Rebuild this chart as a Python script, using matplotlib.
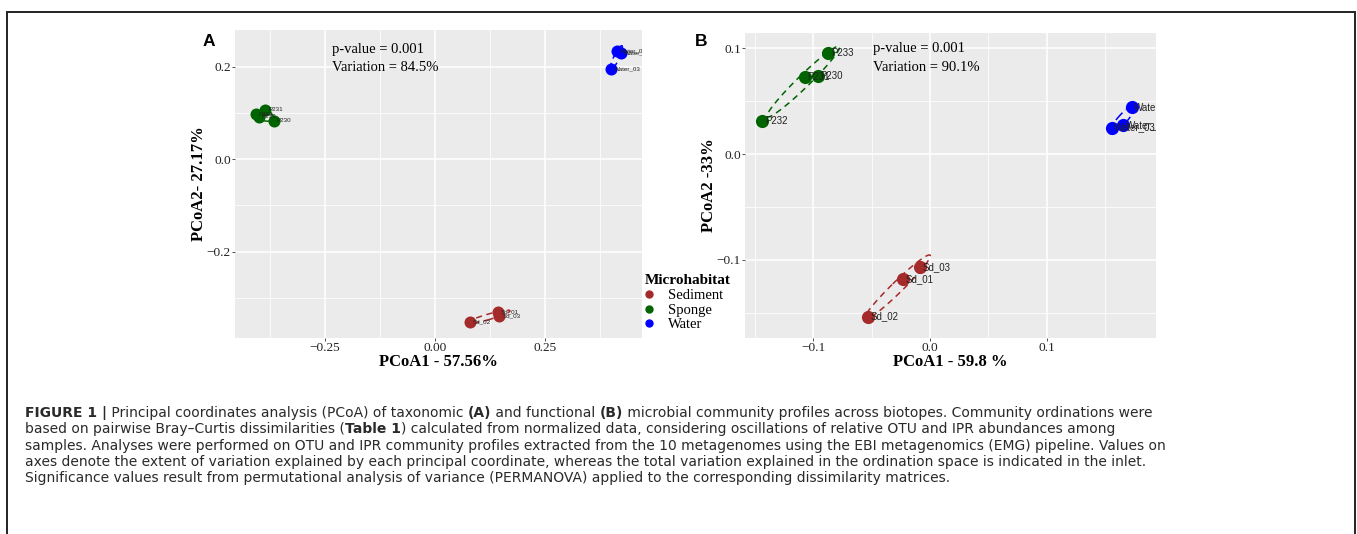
import numpy as np
import matplotlib
matplotlib.use('Agg')
import matplotlib.pyplot as plt
from matplotlib.lines import Line2D
from matplotlib.patches import Rectangle
from matplotlib.transforms import IdentityTransform

# groups and colours
groups = ['Sediment', 'Sponge', 'Water']
colors = ['#A52A2A', '#006400', '#0000FF']

sed_names = ['Sd_01', 'Sd_02', 'Sd_03']
spo_names = ['P230', 'P231', 'P232', 'P233']
wat_names = ['Water_01', 'Water_02', 'Water_03']

# panel A - taxonomic profiles (OTU)
a_sed_x = [0.1425, 0.078, 0.146]
a_sed_y = [-0.331, -0.353, -0.339]
a_spo_x = [-0.366, -0.386, -0.4075, -0.4015]
a_spo_y = [0.083, 0.107, 0.097, 0.091]
a_wat_x = [0.413, 0.422, 0.400]
a_wat_y = [0.233, 0.229, 0.195]

# panel B - functional profiles (IPR)
b_sed_x = [-0.023, -0.053, -0.0086]
b_sed_y = [-0.118, -0.1535, -0.1065]
b_spo_x = [-0.096, -0.1074, -0.1437, -0.0871]
b_spo_y = [0.074, 0.0734, 0.0315, 0.0955]
b_wat_x = [0.1654, 0.1728, 0.1557]
b_wat_y = [0.0274, 0.0447, 0.0252]

caption = [
    [('FIGURE 1 |', True), (' Principal coordinates analysis (PCoA) of taxonomic ', False), ('(A)', True),
     (' and functional ', False), ('(B)', True),
     (' microbial community profiles across biotopes. Community ordinations were', False)],
    [('based on pairwise Bray\u2013Curtis dissimilarities (', False), ('Table 1', True),
     (') calculated from normalized data, considering oscillations of relative OTU and IPR abundances among', False)],
    [('samples. Analyses were performed on OTU and IPR community profiles extracted from the 10 metagenomes using the EBI metagenomics (EMG) pipeline. Values on', False)],
    [('axes denote the extent of variation explained by each principal coordinate, whereas the total variation explained in the ordination space is indicated in the inlet.', False)],
    [('Significance values result from permutational analysis of variance (PERMANOVA) applied to the corresponding dissimilarity matrices.', False)],
]

SERIF = 'Liberation Serif'
SANS = 'Liberation Sans'
W, H = 1357, 534


def ellipse(xs, ys, scale=1.25):
    pts = np.column_stack([xs, ys])
    c = pts.mean(axis=0)
    vals, vecs = np.linalg.eigh(np.cov(pts.T))
    sd = np.sqrt(np.maximum(vals, 0))
    # keep very flat groups from collapsing into a single line
    sd[0] = max(sd[0], 0.12 * sd[1])
    t = np.linspace(0, 2 * np.pi, 120)
    circ = np.vstack([np.cos(t), np.sin(t)])
    e = vecs @ (sd[:, None] * circ) * scale
    return c[0] + e[0], c[1] + e[1]


def panel(ax, data, xlim, ylim, xmaj, xmin, ymaj, ymin, xlab, ylab, lab_size, ms):
    ax.set_facecolor('#EBEBEB')
    ax.set_xlim(xlim)
    ax.set_ylim(ylim)
    ax.set_xticks(xmaj)
    ax.set_xticks(xmin, minor=True)
    ax.set_yticks(ymaj)
    ax.set_yticks(ymin, minor=True)
    ax.grid(which='major', color='white', lw=1.1)
    ax.grid(which='minor', color='white', lw=0.55)
    ax.set_axisbelow(True)
    for s in ax.spines.values():
        s.set_visible(False)
    ax.tick_params(which='minor', length=0)
    ax.tick_params(which='major', length=2.5, width=0.6, color='#333333',
                   labelsize=9.6, labelcolor='#222222', pad=0.5)
    for lab in ax.get_xticklabels() + ax.get_yticklabels():
        lab.set_family(SERIF)
    for (xs, ys, names), col in zip(data, colors):
        ex, ey = ellipse(xs, ys)
        ax.plot(ex, ey, color=col, lw=1.1, ls=(0, (4, 3)), zorder=2)
        ax.scatter(xs, ys, s=ms, color=col, zorder=3, linewidths=0)
        for x, y, n in zip(xs, ys, names):
            ax.annotate(n, (x, y), xytext=(2, 0), textcoords='offset points',
                        fontsize=lab_size, family=SANS, va='center', ha='left',
                        color='#222222', zorder=4, annotation_clip=True, clip_on=True)
    ax.set_xlabel(xlab, family=SERIF, fontweight='bold', fontsize=12, labelpad=0)
    ax.set_ylabel(ylab, family=SERIF, fontweight='bold', fontsize=12, labelpad=0)


fig = plt.figure(figsize=(W / 100, H / 100), dpi=100)

axA = fig.add_axes([235 / W, 1 - 338 / H, 407 / W, 308 / H])
panel(axA,
      [(a_sed_x, a_sed_y, sed_names), (a_spo_x, a_spo_y, spo_names), (a_wat_x, a_wat_y, wat_names)],
      (-0.455, 0.47), (-0.387, 0.279),
      [-0.25, 0, 0.25], [-0.375, -0.125, 0.125, 0.375],
      [-0.2, 0, 0.2], [-0.3, -0.1, 0.1],
      'PCoA1 - 57.56%', 'PCoA2- 27.17%', 4.5, 75)
axA.text(0.2376, 0.938, 'p-value = 0.001', transform=axA.transAxes, family=SERIF, fontsize=10.5, va='center')
axA.text(0.2376, 0.8776, 'Variation = 84.5%', transform=axA.transAxes, family=SERIF, fontsize=10.5, va='center')

axB = fig.add_axes([745 / W, 1 - 338.3 / H, 411 / W, 305.6 / H])
panel(axB,
      [(b_sed_x, b_sed_y, sed_names), (b_spo_x, b_spo_y, spo_names), (b_wat_x, b_wat_y, wat_names)],
      (-0.1585, 0.1937), (-0.174, 0.1148),
      [-0.1, 0, 0.1], [-0.15, -0.05, 0.05, 0.15],
      [-0.1, 0, 0.1], [-0.15, -0.05, 0.05],
      'PCoA1 - 59.8 %', 'PCoA2 -33%', 7, 90)
axB.text(0.311, 0.9467, 'p-value = 0.001', transform=axB.transAxes, family=SERIF, fontsize=10.5, va='center')
axB.text(0.311, 0.8877, 'Variation = 90.1%', transform=axB.transAxes, family=SERIF, fontsize=10.5, va='center')

# panel letters
fig.text(203 / W, 1 - 41 / H, 'A', family=SANS, fontweight='bold', fontsize=12.5, va='center')
fig.text(695 / W, 1 - 41 / H, 'B', family=SANS, fontweight='bold', fontsize=12.5, va='center')

# legend
handles = [Line2D([], [], ls='none', marker='o', ms=5, color=c) for c in colors]
leg = fig.legend(handles, groups, title='Microhabitat', loc='upper left',
                 bbox_to_anchor=(637 / W, 1 - 267 / H), frameon=False, borderpad=0,
                 handlelength=0.6, handletextpad=1.0, labelspacing=0.1,
                 prop={'family': SERIF, 'size': 10.5},
                 title_fontproperties={'family': SERIF, 'weight': 'bold', 'size': 11},
                 alignment='left')

# outer frame
fig.patches.append(Rectangle((7, -5), 1348, H - 12 + 5, transform=IdentityTransform(),
                             fill=False, ec='#222222', lw=1.4))

# caption with bold runs
renderer = fig.canvas.get_renderer()
cap_size = 10.0
y = H - 413
for line in caption:
    x = 25
    for txt, bold in line:
        t = fig.text(x, y, txt, transform=IdentityTransform(), family='DejaVu Sans',
                     fontweight='bold' if bold else 'normal', fontsize=cap_size,
                     color='#2a2a2a', va='center', ha='left')
        x += t.get_window_extent(renderer).width
    y -= 16.3

fig.savefig('out.png', dpi=100)
